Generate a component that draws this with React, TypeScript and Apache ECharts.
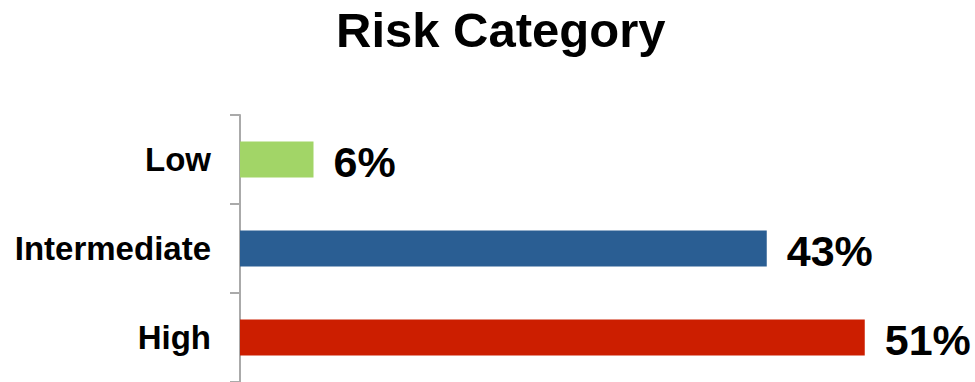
import React, { useEffect, useRef } from "react";
import * as echarts from "echarts";

const categories = ["Low", "Intermediate", "High"];
const values = [6, 43, 51];
const barColors = ["#a2d567", "#2a5e93", "#cc1e00"];
const titleText = "Risk Category";

const FONT = '"Liberation Sans", Arial, Helvetica, sans-serif';

export default function App() {
  const ref = useRef<HTMLDivElement>(null);

  useEffect(() => {
    if (!ref.current) return;
    const chart = echarts.init(ref.current, undefined, { renderer: "svg" });
    chart.setOption({
      animation: false,
      backgroundColor: "#ffffff",
      title: {
        text: titleText,
        left: 331,
        top: 0,
        textStyle: {
          fontFamily: FONT,
          fontSize: 49,
          fontWeight: "bold",
          color: "#000000",
        },
      },
      grid: {
        left: 240,
        top: 115,
        width: 744,
        height: 270,
        containLabel: false,
      },
      xAxis: {
        type: "value",
        min: 0,
        max: 60,
        show: false,
        splitLine: { show: false },
      },
      yAxis: {
        type: "category",
        data: categories,
        inverse: true,
        boundaryGap: true,
        axisLine: { show: true, lineStyle: { color: "#aaaaaa", width: 2 } },
        axisTick: {
          show: true,
          length: 10,
          lineStyle: { color: "#aaaaaa", width: 2 },
        },
        axisLabel: {
          margin: 29,
          fontFamily: FONT,
          fontSize: 33,
          fontWeight: "bold",
          color: "#000000",
        },
        splitLine: { show: false },
      },
      series: [
        {
          type: "bar",
          barWidth: 36,
          data: values.map((v, i) => ({
            value: v,
            itemStyle: { color: barColors[i] },
          })),
          label: {
            show: true,
            position: "right",
            distance: 20,
            offset: [0, 2],
            formatter: (p: any) => p.value + "%",
            fontFamily: FONT,
            fontSize: 43,
            fontWeight: "bold",
            color: "#000000",
          },
        },
      ],
    });
    return () => chart.dispose();
  }, []);

  return (
    <div
      ref={ref}
      style={{ position: "fixed", left: 0, top: 0, width: 975, height: 382 }}
    />
  );
}
